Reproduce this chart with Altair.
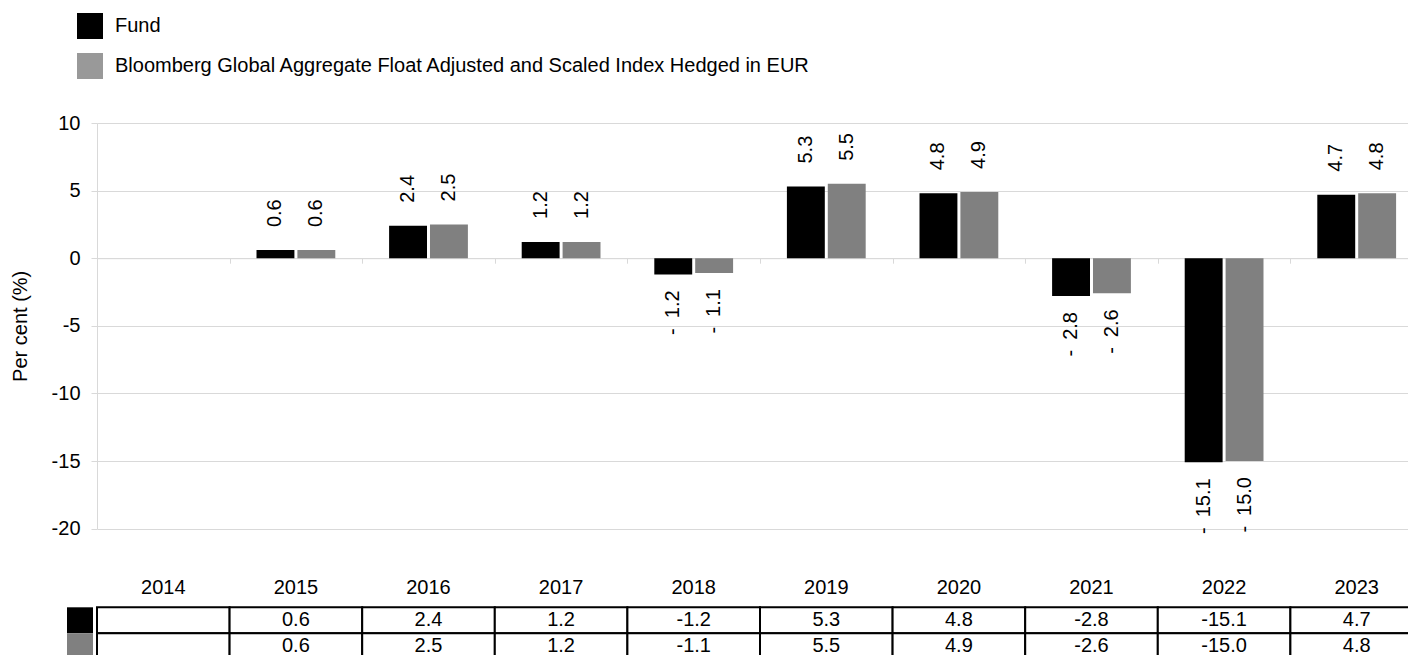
import altair as alt
import pandas as pd

years = ["2014", "2015", "2016", "2017", "2018", "2019", "2020", "2021", "2022", "2023"]
fund = [None, 0.6, 2.4, 1.2, -1.2, 5.3, 4.8, -2.8, -15.1, 4.7]
index = [None, 0.6, 2.5, 1.2, -1.1, 5.5, 4.9, -2.6, -15.0, 4.8]
series_names = ["Fund", "Bloomberg Global Aggregate Float Adjusted and Scaled Index Hedged in EUR"]
row_keys = ["fund_row", "index_row"]
bar_colors = ["#000000", "#808080"]
legend_colors = ["#000000", "#999999"]
y_ticks = [-20, -15, -10, -5, 0, 5, 10]

rows = []
for s, rk, vals in zip(series_names, row_keys, [fund, index]):
    for yr, v in zip(years, vals):
        rows.append({"year": yr, "series": s, "row": rk, "value": v})
df = pd.DataFrame(rows)
bars_df = df.dropna().reset_index(drop=True)

# layout (pixels, relative to the plot area)
W = 1311          # visible plot width (the last band runs past the window edge, as in the original)
X_RANGE = 1326    # full width of the ten year bands
H = 405.6
ZERO_OFFSET = -(H * 20 / 30)   # bottom axis moved up onto the zero line
TABLE_TOP = 484.3
ROW_H = 26
YEAR_OFFSET = 464.3 - H
FONT = "Liberation Sans"
GRID = "#d9d9d9"

x_scale = alt.Scale(domain=years, range=[0, X_RANGE], paddingInner=0, paddingOuter=0)
x_top = alt.X(
    "year:N", sort=years, scale=x_scale,
    axis=alt.Axis(orient="bottom", offset=ZERO_OFFSET, labels=False, title=None,
                  domainColor=GRID, domainWidth=1, tickColor=GRID, tickSize=5,
                  tickBand="extent", grid=False),
)
xoff = alt.XOffset("series:N", sort=series_names,
                   scale=alt.Scale(domain=series_names, paddingInner=0.073, paddingOuter=0.658))
y_scale = alt.Scale(domain=[-20, 10], nice=False, zero=True)
y_enc = alt.Y(
    "value:Q", stack=None, scale=y_scale,
    axis=alt.Axis(values=y_ticks, title="Per cent (%)", titleFont=FONT, titleFontSize=20,
                  titleFontWeight="normal", titleColor="black", titlePadding=21,
                  labelFont=FONT, labelFontSize=20, labelColor="black", labelPadding=11,
                  labelExpr="toString(datum.value)",
                  gridColor=GRID, domainColor=GRID, tickColor=GRID, tickSize=6),
)

bars = alt.Chart(bars_df).mark_bar().encode(
    x=x_top, xOffset=xoff, y=y_enc,
    color=alt.condition(f"datum.series == '{series_names[0]}'",
                        alt.value(bar_colors[0]), alt.value(bar_colors[1])),
)

lbl_expr = "(datum.value < 0 ? '-\u2002' : '') + format(abs(datum.value), '.1f')"
pos_labels = alt.Chart(bars_df).transform_filter("datum.value >= 0").transform_calculate(
    lbl=lbl_expr
).mark_text(angle=270, align="left", baseline="middle", dx=23, fontSize=20, font=FONT,
            color="black").encode(x=x_top, xOffset=xoff, y=y_enc, text="lbl:N")
neg_labels = alt.Chart(bars_df).transform_filter("datum.value < 0").transform_calculate(
    lbl=lbl_expr
).mark_text(angle=270, align="right", baseline="middle", dx=-16, fontSize=20, font=FONT,
            color="black").encode(x=x_top, xOffset=xoff, y=y_enc, text="lbl:N")

legend_layer = alt.Chart(bars_df).mark_square(opacity=0).encode(
    x=x_top, xOffset=xoff, y=y_enc,
    fill=alt.Fill("series:N", sort=series_names,
                  scale=alt.Scale(domain=series_names, range=legend_colors),
                  legend=alt.Legend(orient="none", legendX=-20, legendY=-110, title=None,
                                    symbolType="square", symbolSize=676, symbolOpacity=1,
                                    symbolStrokeWidth=0, labelFont=FONT, labelFontSize=20,
                                    labelColor="black", labelOffset=12, rowPadding=14,
                                    labelLimit=2000, padding=0, direction="vertical")),
)

top = alt.layer(bars, pos_labels, neg_labels, legend_layer)

# data table below the chart
x_tab = alt.X(
    "year:N", sort=years, scale=x_scale,
    axis=alt.Axis(orient="bottom", offset=YEAR_OFFSET, title=None, domain=False, ticks=False,
                  tickSize=0, labelFont=FONT, labelFontSize=20, labelColor="black",
                  labelPadding=0, labelBaseline="middle", labelAngle=0, grid=False),
)
y_tab_scale = alt.Scale(domain=row_keys, range=[TABLE_TOP, TABLE_TOP + 2 * ROW_H],
                        paddingInner=0, paddingOuter=0)
y_tab = alt.Y("row:N", sort=row_keys, scale=y_tab_scale, axis=None)

tab_expr = "isValid(datum.value) ? ((datum.value < 0 ? '-' : '') + format(abs(datum.value), '.1f')) : ''"
cells = alt.Chart(df).mark_rect(fill="white", stroke="black", strokeWidth=2).encode(x=x_tab, y=y_tab)
cell_text = alt.Chart(df).transform_calculate(lbl=tab_expr).mark_text(
    fontSize=20, font=FONT, color="black", align="center", baseline="middle"
).encode(x=x_tab, y=y_tab, text="lbl:N")
swatches = alt.Chart(df).mark_square(opacity=0).encode(
    x=x_tab, y=y_tab,
    color=alt.Color("row:N", sort=row_keys,
                    scale=alt.Scale(domain=row_keys, range=bar_colors),
                    legend=alt.Legend(orient="none", legendX=-30, legendY=TABLE_TOP, title=None,
                                      symbolType="square", symbolSize=676, symbolOpacity=1,
                                      symbolStrokeWidth=0, labelExpr="''", rowPadding=0,
                                      padding=0, labelFontSize=1, labelOffset=0)),
)
table = alt.layer(cells, cell_text, swatches)

chart = alt.layer(top, table).resolve_scale(y="independent").resolve_axis(
    x="independent", y="independent"
).properties(
    width=W, height=H,
    autosize=alt.AutoSizeParams(type="none"),
    padding={"left": 89, "top": 115, "right": 0, "bottom": 133.4},
).configure_view(stroke=None)

chart.save("out.html", embed_options={"renderer": "svg", "actions": False})
